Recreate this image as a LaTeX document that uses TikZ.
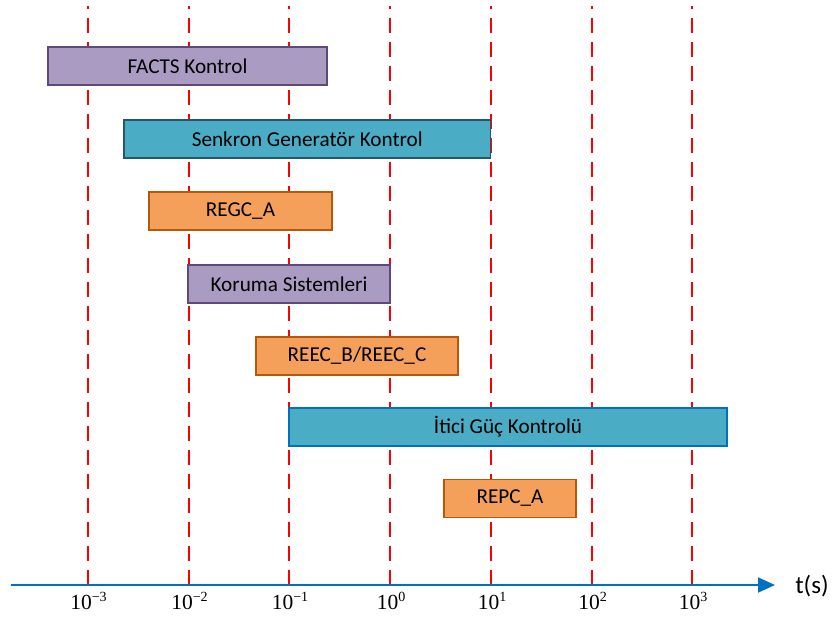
\documentclass[tikz,border=0pt]{standalone}
\usepackage{fontspec}
\setmainfont{Carlito}
\newfontfamily\tnr{Liberation Serif}
\usetikzlibrary{arrows.meta}
\definecolor{purpF}{RGB}{169,155,193}
\definecolor{purpD}{RGB}{95,73,122}
\definecolor{tealF}{RGB}{75,172,198}
\definecolor{tealD}{RGB}{35,88,104}
\definecolor{orF}{RGB}{245,160,90}
\definecolor{orD}{RGB}{182,87,9}
\definecolor{axisblue}{RGB}{0,112,192}
\newcommand{\tlab}[1]{{\tnr\fontsize{21.5}{24}\selectfont 10\raisebox{8pt}{\fontsize{14}{14}\selectfont #1}}}
\begin{document}
\begin{tikzpicture}[x=1pt,y=-1pt,
  bar/.style={line width=1.8pt, minimum height=38pt, inner sep=0pt,
    font=\fontsize{21.2}{25}\selectfont},
  purpbar/.style={bar, fill=purpF, draw=purpD},
  tealbar/.style={bar, fill=tealF, draw=tealD},
  orbar/.style={bar, fill=orF, draw=orD},
  grid/.style={draw=red, line width=2pt, dash pattern=on 15pt off 9pt, dash phase=12pt},
  ticklab/.style={anchor=base, inner sep=0pt}]
\useasboundingbox (0,0) rectangle (833,617);
% grid lines
\foreach \n/\x/\e in {a/87.5/−3, b/188.5/−2, c/289/−1, d/390/0, e/491/1, f/591.5/2, g/692/3}{
  \coordinate (top\n) at (\x,6);
  \coordinate (bot\n) at (\x,585);
  \draw[grid] (top\n) -- (bot\n);
  \node[ticklab] (lab\n) at (\x+1,609) {\tlab{\e}};
}
% axis
\coordinate (axL) at (11,585);
\coordinate (axR) at (775,585);
\draw[draw=axisblue, line width=2pt, -{Triangle[length=17pt,width=15pt]}] (axL) -- (axR);
\node[font=\fontsize{25}{28}\selectfont, inner sep=0pt] (tlabel) at (812,586) {t(s)};
% bars
\node[purpbar, minimum width=279pt] (facts) at (187.5,66) {FACTS Kontrol};
\node[tealbar, minimum width=366.5pt] (senk) at (307.25,139) {Senkron Generatör Kontrol};
\node[orbar, minimum width=183pt] (regc) at (240.5,211) {REGC\_A};
\node[purpbar, minimum width=202pt] (koruma) at (289,284) {Koruma Sistemleri};
\node[orbar, minimum width=202pt] (reec) at (357,356) {REEC\_B/REEC\_C};
\node[bar, fill=tealF, draw=axisblue, minimum width=438pt] (itici) at (508,427) {İtici Güç Kontrolü};
\node[orbar, minimum width=132pt] (repc) at (510,498.5) {REPC\_A};
\end{tikzpicture}
\end{document}
